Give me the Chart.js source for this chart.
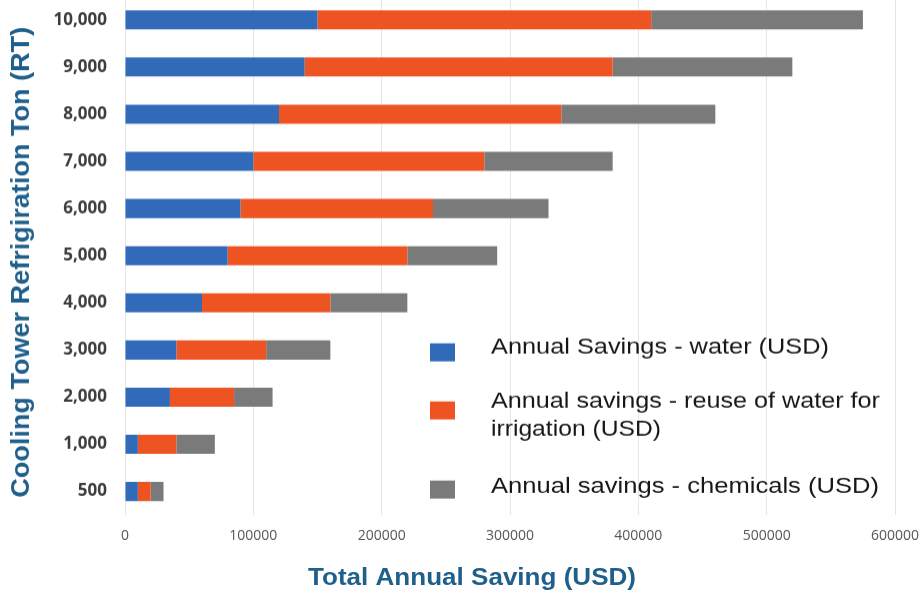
<!DOCTYPE html>
<html>
<head>
<meta charset="utf-8">
<script src="https://cdn.jsdelivr.net/npm/chart.js@4.4.0/dist/chart.umd.min.js"></script>
<style>
  html, body { margin: 0; padding: 0; background: #ffffff; overflow: hidden; width: 919px; height: 593px; }
  #wrap { position: absolute; left: 0; top: 0; width: 919px; height: 593px; }
</style>
</head>
<body>
<div id="wrap"><canvas id="c"></canvas></div>
<script>
// ---- data ----
const categories = ['10,000', '9,000', '8,000', '7,000', '6,000', '5,000', '4,000', '3,000', '2,000', '1,000', '500'];
const waterSavings      = [150000, 140000, 120000, 100000, 90000, 80000, 60000, 40000, 35000, 10000, 10000];
const irrigationSavings = [260000, 240000, 220000, 180000, 150000, 140000, 100000, 70000, 50000, 30000, 10000];
const chemicalSavings   = [165000, 140000, 120000, 100000, 90000, 70000, 60000, 50000, 30000, 30000, 10000];
const seriesNames = ['Annual Savings - water (USD)', 'Annual savings - reuse of water for irrigation (USD)', 'Annual savings - chemicals (USD)'];
const legendLines = [['Annual Savings - water (USD)'], ['Annual savings - reuse of water for', 'irrigation (USD)'], ['Annual savings - chemicals (USD)']];
const seriesColors = ['#326ABA', '#EE5322', '#7A7A7A'];
const xTickLabels = ['0', '100000', '200000', '300000', '400000', '500000', '600000'];
const xTitle = 'Total Annual Saving (USD)';
const yTitle = 'Cooling Tower Refrigiration Ton (RT)';

const titleColor = '#1F5F8B';
let offsetY = 0; // canvas y = page y + offsetY

function stretchedText(ctx, text, x, y, targetW) {
  const w = ctx.measureText(text).width;
  const s = targetW ? targetW / w : 1;
  ctx.save();
  ctx.translate(x, y);
  ctx.scale(s, 1);
  ctx.fillText(text, 0, 0);
  ctx.restore();
}

const overlayPlugin = {
  id: 'overlay',
  afterDraw(chart) {
    const ctx = chart.ctx;
    ctx.save();
    ctx.fillStyle = titleColor;
    ctx.textBaseline = 'middle';
    ctx.font = 'bold 24px "Liberation Sans", Arial, sans-serif';
    ctx.textAlign = 'left';
    stretchedText(ctx, xTitle, 308, 578 + offsetY, 328);
    ctx.save();
    ctx.translate(22, 497 + offsetY);
    ctx.rotate(-Math.PI / 2);
    ctx.font = 'bold 25px "Liberation Sans", Arial, sans-serif';
    stretchedText(ctx, yTitle, 0, 0, 470);
    ctx.restore();
    ctx.restore();

    // legend
    ctx.save();
    const boxX = 430, boxW = 25, boxH = 18;
    const boxY = [343, 401, 480];
    const textX = 491;
    const firstBaseline = [353, 407, 492];
    const lineWidths = [[338], [389, 170], [388]];
    ctx.font = '22px "Liberation Sans", Arial, sans-serif';
    ctx.textAlign = 'left';
    ctx.textBaseline = 'alphabetic';
    chart.data.datasets.forEach((ds, i) => {
      ctx.fillStyle = ds.backgroundColor;
      ctx.fillRect(boxX, boxY[i] + offsetY, boxW, boxH);
      ctx.fillStyle = '#161616';
      legendLines[i].forEach((line, j) => {
        stretchedText(ctx, line, textX, firstBaseline[i] + j * 28 + offsetY, lineWidths[i][j]);
      });
    });
    ctx.restore();
  }
};

const chart = new Chart(document.getElementById('c'), {
  type: 'bar',
  data: {
    labels: categories,
    datasets: [
      { label: seriesNames[0], data: waterSavings, backgroundColor: seriesColors[0] },
      { label: seriesNames[1], data: irrigationSavings, backgroundColor: seriesColors[1] },
      { label: seriesNames[2], data: chemicalSavings, backgroundColor: seriesColors[2] }
    ]
  },
  options: {
    indexAxis: 'y',
    responsive: true,
    maintainAspectRatio: false,
    animation: false,
    devicePixelRatio: 1,
    layout: { padding: { top: 0, right: 24, left: 0, bottom: 0 } },
    datasets: { bar: { categoryPercentage: 1, barPercentage: 0.405 } },
    plugins: {
      legend: { display: false },
      tooltip: { enabled: false }
    },
    scales: {
      x: {
        stacked: true,
        min: 0,
        max: 600000,
        ticks: {
          stepSize: 100000,
          padding: 12,
          color: '#555555',
          font: { family: '"Open Sans", sans-serif', size: 14 },
          maxRotation: 0,
          callback: (v, i) => xTickLabels[i]
        },
        grid: { color: '#E6E6E6', lineWidth: 1, drawTicks: false },
        border: { display: false },
        afterFit(scale) { scale.height = 78.5; scale.paddingLeft = 0; scale.paddingRight = 0; }
      },
      y: {
        stacked: true,
        ticks: {
          padding: 18,
          color: '#3D3D3D',
          font: { family: '"Open Sans", sans-serif', size: 17, weight: 'bold' }
        },
        grid: { display: false, drawTicks: false },
        border: { display: false },
        afterFit(scale) { scale.width = 125; }
      }
    }
  },
  plugins: [overlayPlugin]
});

// calibrate the plot area so that it matches the reference frame (left 125, right 895, top -3.5, bottom 514.5)
(function calibrate() {
  const wrap = document.getElementById('wrap');
  for (let k = 0; k < 3; k++) {
    const ca = chart.chartArea;
    const pad = chart.options.layout.padding;
    pad.right = Math.max(0, pad.right + (ca.right - 895));
    const delta = offsetY + ca.top + 3.5 - offsetY;
    offsetY = delta;
    wrap.style.top = (-delta) + 'px';
    wrap.style.height = (593 + delta) + 'px';
    chart.resize();
    chart.update();
  }
})();
</script>
</body>
</html>
